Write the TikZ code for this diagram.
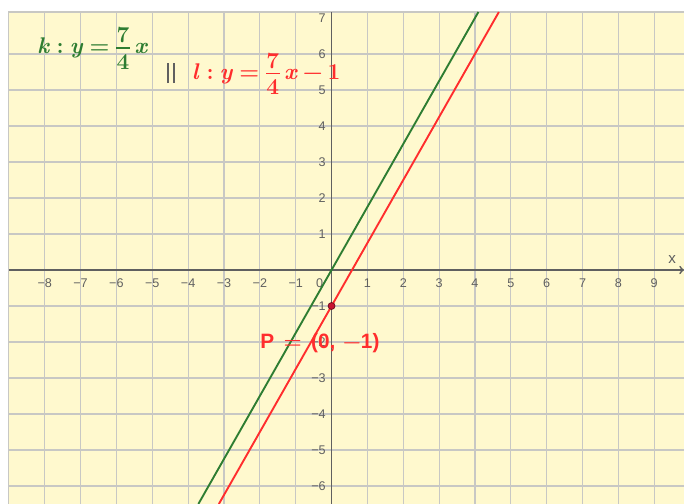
\documentclass[tikz,border=0pt]{standalone}
\usepackage{fontspec}
\setsansfont{Liberation Sans}
\definecolor{paper}{RGB}{255,249,206}
\definecolor{gridgray}{RGB}{200,200,196}
\definecolor{axisgray}{RGB}{96,96,96}
\definecolor{kgreen}{RGB}{46,125,50}
\definecolor{lred}{RGB}{255,45,45}
\definecolor{pred}{RGB}{200,20,50}
% upright fraction built from text: numerator, bar, denominator
\newcommand{\upfrac}[2]{\raisebox{-12.4pt}{\shortstack{#1\\\rule{0.6em}{1.3pt}\\#2\rule{0pt}{13.25pt}}}}
\newcommand{\keqn}{\textit{k}\hspace{0.3em}:\hspace{0.27em}\textit{y}\hspace{0.27em}=\hspace{0.3em}\upfrac{7}{4}\hspace{0.2em}\textit{x}}
\newcommand{\leqn}{\textit{l}\hspace{0.3em}:\hspace{0.27em}\textit{y}\hspace{0.27em}=\hspace{0.3em}\upfrac{7}{4}\hspace{0.2em}\textit{x}\hspace{0.22em}−\hspace{0.22em}1}
\newcommand{\ptext}{P\hspace{0.45em}{\rmfamily=}\hspace{0.45em}(0,\hspace{0.35em}{\rmfamily−}1)}
\tikzset{
  gridline/.style={gridgray,line width=0.9pt},
  axisline/.style={axisgray,line width=1.4pt},
  ticklabel/.style={text=axisgray,font=\sffamily\fontsize{10}{12}\selectfont,inner sep=1pt},
  graphk/.style={kgreen,line width=1.5pt},
  graphl/.style={lred,line width=1.5pt},
  eqlabel/.style={font=\bfseries\fontsize{18}{22}\selectfont,inner sep=0pt,anchor=base west},
}

\begin{document}
\begin{tikzpicture}[x=1cm,y=1.004cm]
    % canvas, with the white margin on top and left
    \useasboundingbox (-9.247,-6.5) rectangle (9.83,7.5);
    \fill[white] (-9.247,-6.5) rectangle (9.83,7.5);
    \fill[paper] (-9,-6.5) rectangle (9.83,7.167);

    % grid
    \foreach \x in {-8,...,9}
        \draw[gridline] (\x,-6.5) -- (\x,7.167);
    \foreach \y in {-6,...,6}
        \draw[gridline] (-9,\y) -- (9.83,\y);
    \draw[gridline] (-9,-6.5) -- (-9,7.167) -- (9.83,7.167);

    % axes
    \draw[axisline,->] (-9,0) -- (9.83,0);
    \draw[axisline] (0,-6.5) -- (0,7.167);
    \node[ticklabel,font=\sffamily\fontsize{12}{14}\selectfont] (xname) at (9.5,0.3) {x};

    % tick labels
    \foreach \x in {1,...,8}
        \node[ticklabel] (xm\x) at (-\x,-0.36) {−\x};
    \foreach \x in {1,...,9}
        \node[ticklabel] (xp\x) at (\x,-0.36) {\x};
    \node[ticklabel] (origin) at (-0.33,-0.36) {0};
    \foreach \y in {1,...,6}
        \node[ticklabel,anchor=east] (ym\y) at (-0.12,-\y) {−\y};
    \foreach \y in {1,...,7}
        \node[ticklabel,anchor=east] (yp\y) at (-0.12,\y) {\y};

    % the two parallel lines
    \draw[graphk,domain=-3.714:4.095] plot (\x,{1.75*\x});
    \draw[graphl,domain=-3.143:4.667] plot (\x,{1.75*\x-1});

    % point P
    \node[circle,fill=pred,draw=pred!55!black,line width=0.6pt,inner sep=0pt,minimum size=5.5pt] (P) at (0,-1) {};
    \node[text=lred,font=\sffamily\bfseries\fontsize{16.5}{20}\selectfont,inner sep=0pt,anchor=base west] (Plabel) at (-1.99,-2.175) {\ptext};

    % equations
    \node[eqlabel,text=kgreen] (klabel) at (-8.22,6.017) {\keqn};
    \node[inner sep=0pt,text=axisgray] (par) at (-4.477,5.47) {\rule{1.7pt}{16pt}\hspace{3pt}\rule{1.7pt}{16pt}};
    \node[eqlabel,text=lred] (llabel) at (-3.90,5.305) {\leqn};
\end{tikzpicture}
\end{document}
